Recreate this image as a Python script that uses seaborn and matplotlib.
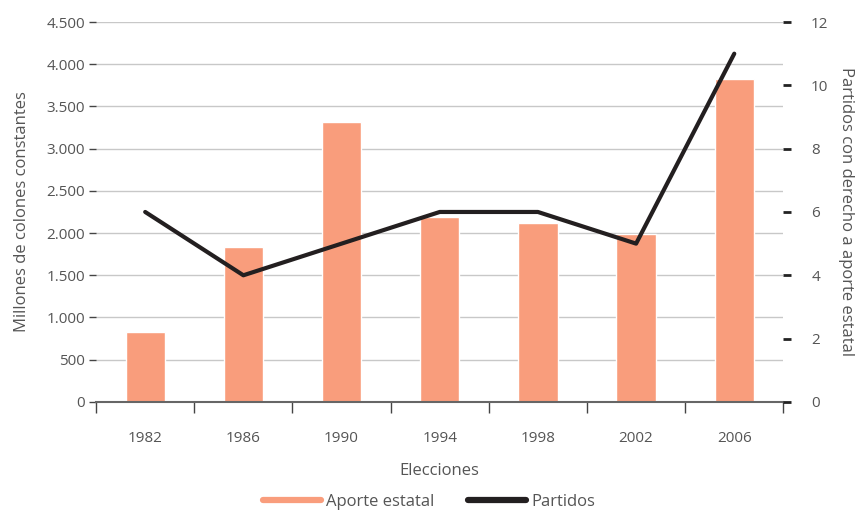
import numpy as np
import pandas as pd
import matplotlib
matplotlib.use("Agg")
import matplotlib.pyplot as plt
import seaborn as sns
from matplotlib.lines import Line2D
from matplotlib.ticker import FuncFormatter, FixedLocator

years = ["1982", "1986", "1990", "1994", "1998", "2002", "2006"]
aporte = [830, 1840, 3310, 2190, 2120, 1990, 3820]
partidos = [6, 4, 5, 6, 6, 5, 11]

sns.set_style("white")
plt.rcParams["font.family"] = ["Open Sans", "DejaVu Sans"]
TXT = "#555555"
BAR = "#F99D7C"
LINE = "#231F20"

df = pd.DataFrame({"year": years, "aporte": aporte, "partidos": partidos})
df["pos"] = np.arange(len(years))

fig = plt.figure(figsize=(8.58, 5.12), dpi=100)
ax = fig.add_axes([0.112, 0.215, 0.801, 0.742])

sns.barplot(data=df, x="year", y="aporte", color=BAR, width=0.4,
            saturation=1, ax=ax, zorder=2)
ax.set_ylim(0, 4500)
ax.set_xlim(-0.5, len(years) - 0.5)
ax.set_yticks(np.arange(0, 4501, 500))
ax.yaxis.set_major_formatter(FuncFormatter(lambda v, p: f"{int(v):,}".replace(",", ".")))
ax.grid(axis="y", color="#c8c8c8", linewidth=1, zorder=0)
ax.set_axisbelow(True)
for s in ["top", "right", "left"]:
    ax.spines[s].set_visible(False)
ax.spines["bottom"].set_color("#666666")
ax.spines["bottom"].set_linewidth(1.5)
ax.spines["bottom"].set_zorder(5)
ax.tick_params(axis="y", length=5, width=1, color="#444444", labelcolor=TXT,
               labelsize=11, left=True, pad=3)
ax.tick_params(axis="x", which="major", length=0, labelcolor=TXT, labelsize=11, pad=21)
ax.xaxis.set_minor_locator(FixedLocator(np.arange(-0.5, len(years), 1.0)))
ax.tick_params(axis="x", which="minor", length=8, width=1, color="#444444", bottom=True)
ax.set_xlabel("Elecciones", color=TXT, fontsize=12, labelpad=12)
ax.set_ylabel("Millones de colones constantes", color=TXT, fontsize=12, labelpad=12)

ax2 = ax.twinx()
sns.lineplot(data=df, x="pos", y="partidos", color=LINE, linewidth=3, ax=ax2,
             zorder=4)
ax2.set_ylim(0, 12)
ax2.set_yticks(np.arange(0, 13, 2))
ax2.grid(False)
for s in ax2.spines.values():
    s.set_visible(False)
ax2.tick_params(axis="y", length=6, width=2, color="#222222", labelcolor=TXT,
                labelsize=11, right=True, pad=14)
ax2.set_ylabel("Partidos con derecho a aporte estatal", color=TXT, fontsize=12,
               rotation=270, labelpad=18)
ax2.set_xlabel("")
ax.set_zorder(1)
ax2.set_zorder(2)
ax.patch.set_visible(False)

handles = [Line2D([0], [0], color=BAR, lw=4.5, solid_capstyle="round"),
           Line2D([0], [0], color=LINE, lw=4.5, solid_capstyle="round")]
leg = fig.legend(handles, ["Aporte estatal", "Partidos"], loc="lower center",
                 ncol=2, frameon=False, bbox_to_anchor=(0.5, -0.025),
                 fontsize=12, handlelength=3.5, handletextpad=0.3, columnspacing=2)
for t in leg.get_texts():
    t.set_color(TXT)

fig.savefig("out.png", dpi=100)
